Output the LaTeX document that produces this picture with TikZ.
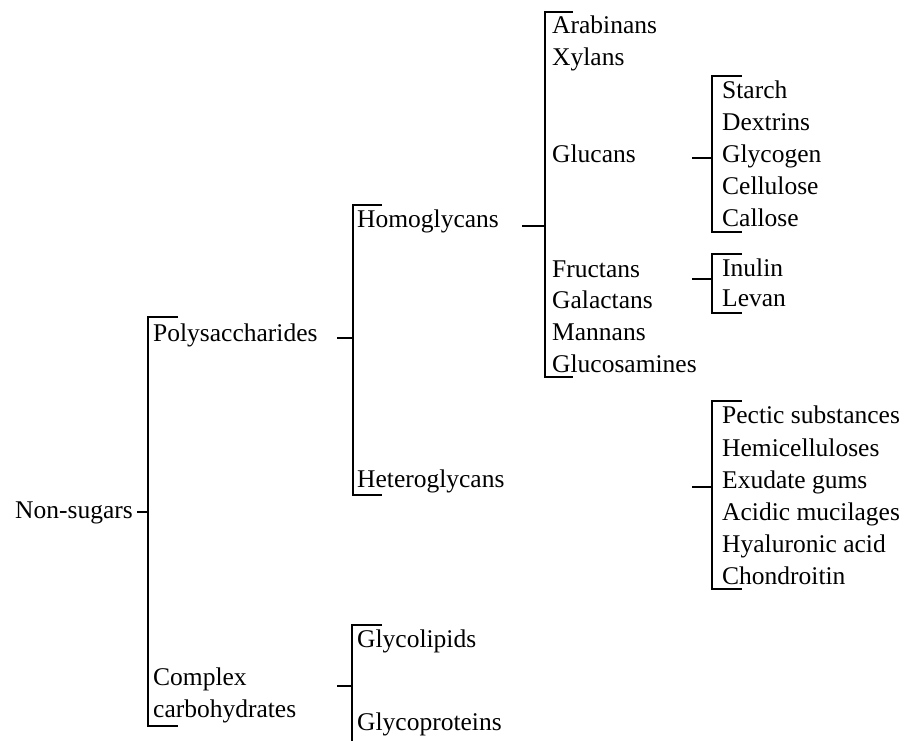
\documentclass[tikz,border=0pt]{standalone}
\usepackage{fontspec}
\setmainfont{Liberation Serif}
\usepackage{tikz}
\usetikzlibrary{calc}

\begin{document}
\begin{tikzpicture}[x=1pt, y=-1pt,
  lbl/.style={anchor=base west, inner sep=0pt, font=\fontsize{25.5}{32}\selectfont},
  brk/.style={line width=1.1pt}]
\useasboundingbox (0,0) rectangle (908,740);
% level 0 and 1
\node[lbl] (nonsug) at (15,518) {Non-sugars};
\node[lbl] (poly) at (153,341) {Polysaccharides};
\node[lbl, anchor=north west, align=left] (cplx) at (153,668) {Complex\\carbohydrates};
% level 2
\node[lbl] (homo) at (357,227) {Homoglycans};
\node[lbl] (hetero) at (357,487) {Heteroglycans};
\node[lbl] (glylip) at (357,647) {Glycolipids};
\node[lbl] (glyprot) at (357,730) {Glycoproteins};
% level 3
\node[lbl] (arab) at (552,33) {Arabinans};
\node[lbl] (xyl) at (552,65) {Xylans};
\node[lbl] (gluc) at (552,162) {Glucans};
\node[lbl] (fruc) at (552,277) {Fructans};
\node[lbl] (galac) at (552,308) {Galactans};
\node[lbl] (mann) at (552,340) {Mannans};
\node[lbl] (glcn) at (552,372) {Glucosamines};
% level 4
\node[lbl] (starch) at (722,98) {Starch};
\node[lbl] (dextr) at (722,130) {Dextrins};
\node[lbl] (glycog) at (722,162) {Glycogen};
\node[lbl] (cellu) at (722,194) {Cellulose};
\node[lbl] (callo) at (722,226) {Callose};
\node[lbl] (inulin) at (722,276) {Inulin};
\node[lbl] (levan) at (722,306) {Levan};
\node[lbl] (pectic) at (722,423) {Pectic substances};
\node[lbl] (hemi) at (722,456) {Hemicelluloses};
\node[lbl] (exud) at (722,488) {Exudate gums};
\node[lbl] (acid) at (722,520) {Acidic mucilages};
\node[lbl] (hyal) at (722,552) {Hyaluronic acid};
\node[lbl] (chond) at (722,584) {Chondroitin};
% bracket joints and ends
\coordinate (ns-j) at (148,512); \coordinate (ns-t) at (148,317); \coordinate (ns-b) at (148,726);
\coordinate (po-j) at (353,338); \coordinate (po-t) at (353,205); \coordinate (po-b) at (353,495);
\coordinate (cx-j) at (352,686); \coordinate (cx-t) at (352,625); \coordinate (cx-b) at (352,742);
\coordinate (ho-j) at (545,226); \coordinate (ho-t) at (545,12); \coordinate (ho-b) at (545,377);
\coordinate (gl-j) at (712,158); \coordinate (gl-t) at (712,76); \coordinate (gl-b) at (712,232);
\coordinate (fr-j) at (712,279); \coordinate (fr-t) at (712,254); \coordinate (fr-b) at (712,313);
\coordinate (he-j) at (712,487); \coordinate (he-t) at (712,401); \coordinate (he-b) at (712,589);
% ticks from parents
\draw[brk] (nonsug.east |- ns-j) ++(4,0) -- (ns-j);
\draw[brk] ($(po-j)+(-16,0)$) -- (po-j);
\draw[brk] ($(cx-j)+(-15,0)$) -- (cx-j);
\draw[brk] ($(ho-j)+(-23,0)$) -- (ho-j);
\draw[brk] ($(gl-j)+(-20,0)$) -- (gl-j);
\draw[brk] ($(fr-j)+(-20,0)$) -- (fr-j);
\draw[brk] ($(he-j)+(-20,0)$) -- (he-j);
% brackets
\draw[brk] ($(ns-t)+(30,0)$) -- (ns-t) -- (ns-b) -- +(30,0);
\draw[brk] ($(po-t)+(29,0)$) -- (po-t) -- (po-b) -- +(29,0);
\draw[brk] ($(cx-t)+(30,0)$) -- (cx-t) -- (cx-b);
\draw[brk] ($(ho-t)+(28,0)$) -- (ho-t) -- (ho-b) -- +(28,0);
\draw[brk] ($(gl-t)+(30,0)$) -- (gl-t) -- (gl-b) -- +(30,0);
\draw[brk] ($(fr-t)+(30,0)$) -- (fr-t) -- (fr-b) -- +(30,0);
\draw[brk] ($(he-t)+(30,0)$) -- (he-t) -- (he-b) -- +(30,0);
\end{tikzpicture}
\end{document}
